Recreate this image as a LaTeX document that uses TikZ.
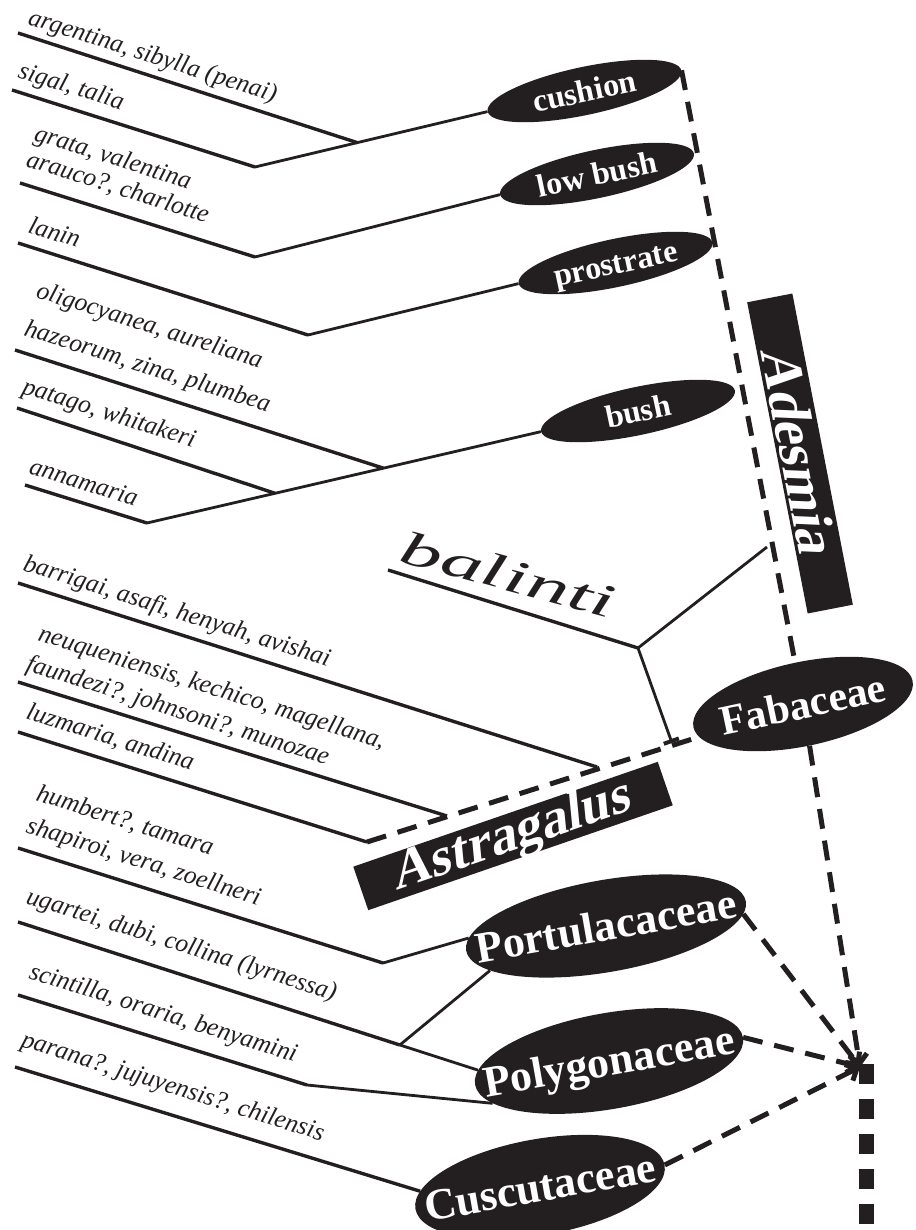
\documentclass[tikz,border=0pt]{standalone}
\usepackage{fontspec}
\setmainfont{Liberation Serif}
\usepackage{graphicx}
\usetikzlibrary{shapes.geometric,arrows.meta,calc}
\definecolor{ink}{HTML}{231F20}
\begin{document}
\begin{tikzpicture}[x=1pt,y=-1pt,
  leaf/.style={draw=ink, line width=3.4pt},
  conn/.style={draw=ink, line width=2.8pt},
  lab/.style={anchor=base west, rotate=-17.5, inner sep=0pt, text=ink,
    font=\fontsize{25.5}{25.5}\selectfont\itshape},
  smallell/.style={ellipse, fill=ink, text=white, inner sep=0pt,
    minimum width=198pt, minimum height=48pt, rotate=12,
    font=\fontsize{32}{32}\selectfont\bfseries, text height=22pt, text depth=0pt},
  famell/.style={ellipse, fill=ink, text=white, inner sep=0pt, rotate=10,
    font=\fontsize{44}{44}\selectfont\bfseries, text height=29pt, text depth=0pt},
  genbar/.style={rectangle, fill=ink, inner sep=0pt},
  bartext/.style={text=white, inner sep=0pt,
    font=\fontsize{56}{56}\selectfont\bfseries},
  cdash/.style={draw=ink, line width=5pt, dash pattern=on 20pt off 12pt},
  tipped/.style={-{Straight Barb[length=9pt,width=18pt]}},
  rootdash/.style={draw=ink, line width=15pt, dash pattern=on 20pt off 15pt}
]
\useasboundingbox (0,0) rectangle (915,1230);

% ---- ellipses and bars
\node[smallell] (cushion)   at (584.5,91)  {\makebox[0pt]{cushion}};
\node[smallell] (lowbush)   at (597,174)   {\makebox[0pt]{low bush}};
\node[smallell] (prostrate) at (615.5,263) {\makebox[0pt]{prostrate}};
\node[smallell] (bush)      at (638,411)   {\makebox[0pt]{bush}};
\node[famell, rotate=2, minimum width=224pt, minimum height=84pt,
      font=\fontsize{42}{42}\selectfont\bfseries] (fab) at (803,704) {\makebox[0pt]{Fabaceae}};
\node[famell, minimum width=284pt, minimum height=92pt] (portu) at (606,926) {\makebox[0pt]{Portulacaceae}};
\node[famell, minimum width=272pt, minimum height=96pt] (poly)  at (609,1061) {\makebox[0pt]{Polygonaceae}};
\node[famell, minimum width=253pt, minimum height=96pt] (cusc)  at (540,1187) {\makebox[0pt]{Cuscutaceae}};
\node[genbar, rotate=-79, minimum width=317pt, minimum height=46pt] (adesmia) at (800,453.5) {};
\node[bartext, rotate=-79, xslant=0.24, text height=39pt, text depth=0pt] (adesmiaT) at (adesmia.center) {Adesmia};
\node[genbar, rotate=19, minimum width=322pt, minimum height=46pt] (astra) at (513,836) {};
\node[bartext, rotate=19, xslant=0.24, font=\fontsize{54}{54}\selectfont\bfseries,
      text height=36pt, text depth=8pt] (astraT) at (astra.center) {Astragalus};

% ---- Adesmia leaves
\coordinate (a1) at (18,33);
\coordinate (a2) at (12,90);
\coordinate (j2) at (255,167);
\coordinate (a3) at (20,183);
\coordinate (j3) at (255,257);
\coordinate (a4) at (18,243);
\coordinate (j4) at (308,335);
\coordinate (a5) at (15,350);
\coordinate (a6) at (17,408);
\coordinate (a7) at (25,485);
\coordinate (j7) at (147,523);
\coordinate (j1) at ($(j2)!0.44!(cushion.west)$);
\coordinate (j5) at ($(j7)!0.6!(bush.west)$);
\coordinate (j6) at ($(j7)!0.325!(bush.west)$);

\draw[leaf] (a1) -- (j1);
\draw[leaf] (a2) -- (j2);
\draw[conn] (j2) -- (cushion.west);
\draw[leaf] (a3) -- (j3);
\draw[conn] (j3) -- (lowbush.west);
\draw[leaf] (a4) -- (j4);
\draw[conn] (j4) -- (prostrate.west);
\draw[leaf] (a5) -- (j5);
\draw[leaf] (a6) -- (j6);
\draw[leaf] (a7) -- (j7);
\draw[conn] (j7) -- (bush.west);

% ---- clade lines
\coordinate (aj) at (767,547);
\coordinate (a0) at (367,842);
\coordinate (n1) at (447,816);
\coordinate (n2) at (597,767);
\coordinate (n3) at (672,743);
\draw[cdash] (cushion.east) -- (fab);
\draw[cdash] (a0) -- (fab);

% ---- balinti
\coordinate (b0) at (388,570);
\coordinate (bj) at (638,648);
\draw[leaf] (b0) -- (bj);
\draw[conn] (bj) -- (aj);
\draw[conn, -{Bar[width=16pt,line width=4pt]}] (bj) -- (n3);
\node[anchor=base west, rotate=-15, inner sep=0pt, text=ink,
      font=\fontsize{47}{47}\selectfont\itshape] (balinti) at (397,561) {\scalebox{1.8}[1]{balinti}};

% ---- Astragalus leaves
\coordinate (a8) at (18,583);
\coordinate (a9) at (18,682);
\coordinate (a10) at (18,732);
\draw[leaf] (a8) -- (n2);
\draw[leaf] (a9) -- (n1);
\draw[leaf] (a10) -- (a0);

% ---- other families
\coordinate (s0) at (18,848);
\coordinate (s1) at (383,963);
\coordinate (u0) at (18,922);
\coordinate (u1) at ($(u0)!0.83!(poly.174)$);
\coordinate (c0) at (18,995);
\coordinate (c1) at (307,1085);
\coordinate (p0) at (15,1067);
\draw[leaf] (s0) -- (s1);
\draw[conn] (s1) -- (portu.175);
\draw[leaf] (u0) -- (u1);
\draw[conn] (u1) -- (poly.174);
\draw[conn] (u1) -- (portu.191);
\draw[leaf] (c0) -- (c1);
\draw[conn] (c1) -- (poly.190);
\draw[leaf] (p0) -- (cusc.172);

% ---- convergence
\coordinate (conv) at (860,1067);
\coordinate (root) at (866,1064);
\coordinate (rootend) at (866,1235);
\draw[cdash, tipped] (fab) -- (conv);
\draw[cdash, tipped] (portu.355) -- (conv);
\draw[cdash, tipped] (poly.east) -- (conv);
\draw[cdash, tipped] (cusc.east) -- (conv);
\draw[rootdash] (root) -- (rootend);

% ---- labels
\node[lab] (t1)  at (27,24)   {argentina, sibylla (penai)};
\node[lab] (t2)  at (17,77)   {sigal, talia};
\node[lab] (t3)  at (33,140)  {grata, valentina};
\node[lab] (t4)  at (25,166)  {arauco?, charlotte};
\node[lab] (t5)  at (27,232)  {lanin};
\node[lab] (t6)  at (35,297)  {oligocyanea, aureliana};
\node[lab] (t7)  at (23,335)  {hazeorum, zina, plumbea};
\node[lab] (t8)  at (21,393)  {patago, whitakeri};
\node[lab] (t9)  at (28,473)  {annamaria};
\node[lab] (t10) at (22,570)  {barrigai, asafi, henyah, avishai};
\node[lab] (t11) at (37,640)  {neuqueniensis, kechico, magellana,};
\node[lab] (t12) at (25,670)  {faundezi?, johnsoni?, munozae};
\node[lab] (t13) at (25,718)  {luzmaria, andina};
\node[lab] (t14) at (35,800)  {humbert?, tamara};
\node[lab] (t15) at (25,832)  {shapiroi, vera, zoellneri};
\node[lab] (t16) at (25,903)  {ugartei, dubi, collina (lyrnessa)};
\node[lab] (t17) at (28,978)  {scintilla, oraria, benyamini};
\node[lab] (t18) at (20,1046) {parana?, jujuyensis?, chilensis};
\end{tikzpicture}
\end{document}
